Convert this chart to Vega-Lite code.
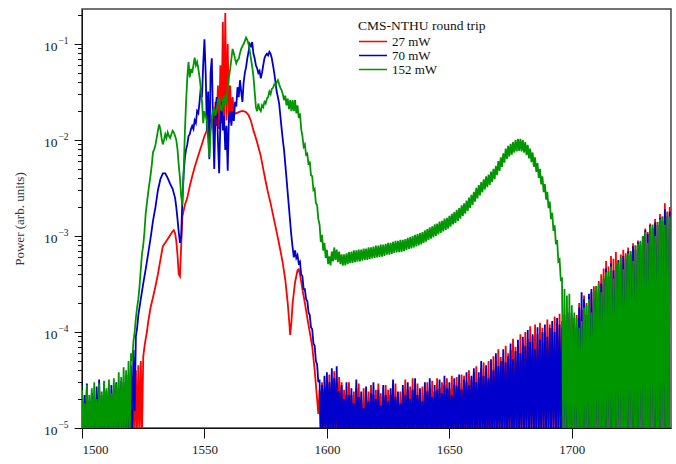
{
"$schema":"https://vega.github.io/schema/vega-lite/v6.json",
"autosize":{"type":"none"},
"width":589,"height":419,
"padding":{"left":82,"top":9,"right":5,"bottom":36},
"background":"white",
"data":{"values":[
{"x":1500,"r":2.3e-5,"b":1.5e-5,"g":2.5e-5},{"x":1500.5,"r":8e-6,"b":8e-6,"g":8e-6},
{"x":1501,"r":1.5e-5,"b":2.2e-5,"g":1.8e-5},{"x":1501.5,"r":8e-6,"b":8e-6,"g":8e-6},
{"x":1502,"r":2.6e-5,"b":2.9e-5,"g":2.8e-5},{"x":1502.5,"r":8e-6,"b":8e-6,"g":8e-6},
{"x":1503,"r":1.8e-5,"b":1.9e-5,"g":2.2e-5},{"x":1503.5,"r":8e-6,"b":8e-6,"g":8e-6},
{"x":1504,"r":1.6e-5,"b":2.3e-5,"g":2.6e-5},{"x":1504.5,"r":8e-6,"b":8e-6,"g":8e-6},
{"x":1505,"r":2.1e-5,"b":2.0e-5,"g":3.0e-5},{"x":1505.5,"r":8e-6,"b":8e-6,"g":8e-6},
{"x":1506,"r":1.4e-5,"b":2.7e-5,"g":2.0e-5},{"x":1506.5,"r":8e-6,"b":8e-6,"g":8e-6},
{"x":1507,"r":1.9e-5,"b":3.2e-5,"g":2.9e-5},{"x":1507.5,"r":8e-6,"b":8e-6,"g":8e-6},
{"x":1508,"r":2.2e-5,"b":2.0e-5,"g":2.4e-5},{"x":1508.5,"r":8e-6,"b":8e-6,"g":8e-6},
{"x":1509,"r":1.5e-5,"b":2.9e-5,"g":3.1e-5},{"x":1509.5,"r":8e-6,"b":8e-6,"g":8e-6},
{"x":1510,"r":1.8e-5,"b":2.4e-5,"g":2.6e-5},{"x":1510.5,"r":8e-6,"b":8e-6,"g":8e-6},
{"x":1511,"r":2.0e-5,"b":2.2e-5,"g":3.2e-5},{"x":1511.5,"r":8e-6,"b":8e-6,"g":8e-6},
{"x":1512,"r":1.6e-5,"b":2.8e-5,"g":2.3e-5},{"x":1512.5,"r":8e-6,"b":8e-6,"g":8e-6},
{"x":1513,"r":1.9e-5,"b":2.5e-5,"g":3.3e-5},{"x":1513.5,"r":8e-6,"b":8e-6,"g":8e-6},
{"x":1514,"r":1.5e-5,"b":3.0e-5,"g":2.9e-5},{"x":1514.5,"r":8e-6,"b":8e-6,"g":8e-6},
{"x":1515,"r":2.0e-5,"b":2.6e-5,"g":3.8e-5},{"x":1515.5,"r":8e-6,"b":8e-6,"g":8e-6},
{"x":1516,"r":1.7e-5,"b":3.1e-5,"g":3.4e-5},{"x":1516.5,"r":8e-6,"b":8e-6,"g":8e-6},
{"x":1517,"r":1.8e-5,"b":3.0e-5,"g":4.3e-5},{"x":1517.5,"r":8e-6,"b":8e-6,"g":8e-6},
{"x":1518,"r":1.9e-5,"b":3.5e-5,"g":4.0e-5},{"x":1518.5,"r":8e-6,"b":8e-6,"g":8e-6},
{"x":1519,"r":2.1e-5,"b":3.6e-5,"g":5.0e-5},{"x":1519.5,"r":8e-6,"b":8e-6,"g":8e-6},
{"x":1520,"r":2.4e-5,"b":4.5e-5,"g":6.0e-5},{"x":1520.5,"r":8e-6,"b":8e-6,"g":5.0e-5},
{"x":1521,"r":3.5e-5,"b":6.5e-5,"g":8e-5},{"x":1521.5,"r":8e-6,"b":1.5e-5,"g":1.0e-4},
{"x":1522,"r":4.0e-5,"b":9e-5,"g":1.4e-4},{"x":1522.5,"r":8e-6,"b":1.1e-4,"g":1.8e-4},
{"x":1523,"r":4.5e-5,"b":1.5e-4,"g":2.2e-4},{"x":1523.5,"r":8e-6,"g":3e-4},
{"x":1524,"r":5e-5,"b":2.2e-4,"g":4.5e-4},{"x":1524.5,"r":8e-6,"g":6.5e-4},
{"x":1525,"r":5.5e-5,"b":3.2e-4,"g":8e-4},{"x":1525.5,"r":7e-5,"g":1.1e-3},
{"x":1526,"r":8.5e-5,"b":4.5e-4,"g":1.7e-3},{"x":1526.5,"r":1e-4,"g":2.2e-3},
{"x":1527,"r":1.26e-4,"b":6.5e-4,"g":2.8e-3},{"x":1527.5,"g":3.5e-3},
{"x":1528,"r":1.8e-4,"b":9.5e-4,"g":4.3e-3},{"x":1528.5,"g":5.5e-3},
{"x":1529,"r":2.3e-4,"b":1.45e-3,"g":7.5e-3},{"x":1529.5,"g":8e-3},
{"x":1530,"r":3e-4,"b":2e-3,"g":8.9e-3},{"x":1530.5,"g":1.05e-2},
{"x":1531,"r":4e-4,"b":3e-3,"g":1.25e-2},{"x":1531.5,"g":1.45e-2},
{"x":1532,"r":5.6e-4,"b":3.9e-3,"g":1.3e-2},{"x":1532.5,"g":1.05e-2},
{"x":1533,"r":7.8e-4,"b":4.5e-3,"g":9e-3},{"x":1533.5,"g":1e-2},
{"x":1534,"r":8.5e-4,"b":4.5e-3,"g":1.15e-2},{"x":1534.5,"g":1.05e-2},
{"x":1535,"r":9.3e-4,"b":4e-3,"g":1.2e-2},{"x":1535.5,"g":1.1e-2},
{"x":1536,"r":1.02e-3,"b":3.5e-3,"g":1.05e-2},{"x":1536.5,"g":1.15e-2},
{"x":1537,"r":1.12e-3,"b":3.1e-3,"g":1.25e-2},{"x":1537.5,"r":1.15e-3,"g":1.2e-2},
{"x":1538,"r":1.07e-3,"b":2.5e-3,"g":1.1e-2},{"x":1538.5,"r":8.9e-4,"b":2e-3,"g":1e-2},
{"x":1539,"r":6.3e-4,"b":1.5e-3,"g":8e-3},{"x":1539.5,"r":4e-4,"b":1.1e-3,"g":5.5e-3},
{"x":1540,"r":3.8e-4,"b":8.5e-4,"g":4e-3},{"x":1540.5,"r":7.9e-4,"b":1e-3,"g":2.6e-3},
{"x":1541,"r":1.6e-3,"b":2.5e-3,"g":2.1e-3},{"x":1541.5,"b":4.5e-3,"g":4.5e-3},
{"x":1542,"r":2.1e-3,"b":6.5e-3,"g":1.2e-2},{"x":1542.5,"b":8e-3,"g":2.5e-2},
{"x":1543,"r":2.5e-3,"b":9e-3,"g":4.5e-2},{"x":1543.5,"b":1.1e-2,"g":6.5e-2},
{"x":1544,"r":3.3e-3,"b":1.15e-2,"g":4.5e-2},{"x":1544.5,"b":1.3e-2,"g":5.5e-2},
{"x":1545,"r":4.2e-3,"b":1.4e-2,"g":5e-2},{"x":1545.5,"b":1.3e-2,"g":6e-2},
{"x":1546,"r":5.2e-3,"b":1.6e-2,"g":7.2e-2},{"x":1546.5,"b":1.5e-2,"g":6e-2},
{"x":1547,"r":6.3e-3,"b":2e-2,"g":6.5e-2},{"x":1547.5,"b":1.9e-2,"g":5.5e-2},
{"x":1548,"r":7.6e-3,"b":2.5e-2,"g":4.5e-2},{"x":1548.5,"b":3.5e-2,"g":3.5e-2},
{"x":1549,"r":9.1e-3,"b":2.8e-2,"g":2.5e-2},{"x":1549.5,"b":6.3e-2,"g":1.5e-2},
{"x":1550,"r":1.1e-2,"b":0.112,"g":2e-2},{"x":1550.5,"b":5e-2,"g":1.8e-2},
{"x":1551,"r":1.26e-2,"b":1.26e-2,"g":1.6e-2},{"x":1551.5,"b":3.2e-2,"g":1e-2},
{"x":1552,"r":1.48e-2,"b":6.3e-3,"g":6.6e-3},{"x":1552.5,"b":5e-2,"g":1.2e-2},
{"x":1553,"r":1.66e-2,"b":7.1e-2,"g":1.6e-2},{"x":1553.5,"r":2.2e-2,"b":1.58e-2,"g":2e-2},
{"x":1554,"r":1.3e-2,"b":5e-3,"g":2.2e-2},{"x":1554.5,"r":2.5e-2,"b":2e-2,"g":1.8e-2},
{"x":1555,"r":1.4e-2,"b":2.8e-2,"g":2e-2},{"x":1555.5,"r":3.7e-2,"b":1e-2,"g":2.6e-2},
{"x":1556,"r":1.3e-2,"b":4.5e-3,"g":2.8e-2},{"x":1556.5,"r":6e-2,"b":1.58e-2,"g":2.2e-2},
{"x":1557,"r":1.5e-2,"b":2.5e-2,"g":2e-2},{"x":1557.5,"r":0.17,"b":1.26e-2,"g":2.6e-2},
{"x":1558,"r":1.4e-2,"b":1.78e-2,"g":2.8e-2},{"x":1558.5,"r":0.21,"b":7.9e-3,"g":2.3e-2},
{"x":1559,"r":1.6e-2,"b":1.41e-2,"g":2.5e-2},{"x":1559.5,"r":0.1,"b":4.8e-3,"g":3.5e-2},
{"x":1560,"r":1.5e-2,"b":1.78e-2,"g":4.5e-2},{"x":1560.5,"r":3.7e-2,"b":2e-2,"g":5.5e-2},
{"x":1561,"r":1.6e-2,"b":1.41e-2,"g":7e-2},{"x":1561.5,"r":2.8e-2,"b":2e-2,"g":8.9e-2},
{"x":1562,"r":1.8e-2,"b":1.58e-2,"g":8e-2},{"x":1562.5,"r":1.9e-2,"b":2.5e-2,"g":7e-2},
{"x":1563,"r":1.9e-2,"b":2.24e-2,"g":6.3e-2},{"x":1563.5,"b":3.55e-2,"g":6.8e-2},
{"x":1564,"r":1.95e-2,"b":2.8e-2,"g":7e-2},{"x":1564.5,"b":4.2e-2,"g":8e-2},
{"x":1565,"r":2e-2,"b":3.2e-2,"g":8.9e-2},{"x":1565.5,"b":2.5e-2,"g":9.5e-2},
{"x":1566,"r":2e-2,"b":4e-2,"g":0.1},{"x":1566.5,"b":5e-2,"g":0.108},
{"x":1567,"r":1.95e-2,"b":5.75e-2,"g":0.117},{"x":1567.5,"b":7.1e-2,"g":0.11},
{"x":1568,"r":1.82e-2,"b":8.3e-2,"g":0.1},{"x":1568.5,"b":0.1,"g":8.5e-2},
{"x":1569,"r":1.58e-2,"b":9.5e-2,"g":7e-2},{"x":1569.5,"b":0.105,"g":5.8e-2},
{"x":1570,"r":1.26e-2,"b":7.9e-2,"g":4.6e-2},{"x":1570.5,"b":7.1e-2,"g":3.2e-2},
{"x":1571,"r":1.05e-2,"b":6e-2,"g":2.2e-2},{"x":1571.5,"b":5.6e-2,"g":2e-2},
{"x":1572,"r":8.5e-3,"b":5e-2,"g":2.4e-2},{"x":1572.5,"b":5.25e-2,"g":2.1e-2},
{"x":1573,"r":6.8e-3,"b":4.4e-2,"g":2e-2},{"x":1573.5,"b":5e-2,"g":2.3e-2},
{"x":1574,"r":5e-3,"b":6e-2,"g":2.2e-2},{"x":1574.5,"b":7.1e-2,"g":2.5e-2},
{"x":1575,"r":3.7e-3,"b":7.6e-2,"g":2.4e-2},{"x":1575.5,"b":7.9e-2,"g":2.7e-2},
{"x":1576,"r":2.8e-3,"b":7.6e-2,"g":2.8e-2},{"x":1576.5,"b":8.3e-2,"g":3.2e-2},
{"x":1577,"r":2.2e-3,"b":7.9e-2,"g":3e-2},{"x":1577.5,"b":7.1e-2,"g":3.4e-2},
{"x":1578,"r":1.66e-3,"b":6e-2,"g":3.5e-2},{"x":1578.5,"b":5e-2,"g":3.8e-2},
{"x":1579,"r":1.26e-3,"b":4e-2,"g":3.7e-2},{"x":1579.5,"b":3.2e-2,"g":4e-2},
{"x":1580,"r":9.5e-4,"b":2.8e-2,"g":4.2e-2},{"x":1580.5,"b":2.4e-2,"g":3.8e-2},
{"x":1581,"r":7.1e-4,"b":1.78e-2,"g":3.5e-2},{"x":1581.5,"b":1.32e-2,"g":3.3e-2},
{"x":1582,"r":5.2e-4,"b":1e-2,"g":3e-2},{"x":1582.5,"b":7.9e-3,"g":2.6e-2},
{"x":1583,"r":3.5e-4,"b":5.6e-3,"g":2.9e-2},{"x":1583.5,"b":4e-3,"g":2.3e-2},
{"x":1584,"r":2e-4,"b":2.8e-3,"g":2.7e-2},{"x":1584.5,"r":1.4e-4,"b":2e-3,"g":2.1e-2},
{"x":1585,"r":9.3e-5,"b":1.4e-3,"g":2.6e-2},{"x":1585.5,"r":1.26e-4,"b":1e-3,"g":2e-2},
{"x":1586,"r":2e-4,"b":7.6e-4,"g":2.6e-2},{"x":1586.5,"b":6e-4,"g":2e-2},
{"x":1587,"r":3.3e-4,"b":7.1e-4,"g":2.6e-2},{"x":1587.5,"b":5.9e-4,"g":1.9e-2},
{"x":1588,"r":4.4e-4,"b":6.3e-4,"g":2.3e-2},{"x":1588.5,"r":4.5e-4,"b":5.2e-4,"g":1.7e-2},
{"x":1589,"r":4e-4,"b":5.4e-4,"g":1.9e-2},{"x":1589.5,"b":4e-4,"g":1.3e-2},
{"x":1590,"r":2.8e-4,"b":3.8e-4,"g":1.1e-2},{"x":1590.5,"b":2.8e-4,"g":8.5e-3},
{"x":1591,"r":2e-4,"b":2.8e-4,"g":9e-3},{"x":1591.5,"b":2.2e-4,"g":7e-3},
{"x":1592,"r":1.4e-4,"b":2.1e-4,"g":7.2e-3},{"x":1592.5,"b":1.6e-4,"g":5.5e-3},
{"x":1593,"r":1e-4,"b":1.5e-4,"g":6e-3},{"x":1593.5,"b":1.12e-4,"g":4.3e-3},
{"x":1594,"r":7.1e-5,"b":1.07e-4,"g":4.2e-3},{"x":1594.5,"b":7.6e-5,"g":3e-3},
{"x":1595,"r":4e-5,"b":7.2e-5,"g":3.1e-3},{"x":1595.5,"b":5e-5,"g":2.2e-3},
{"x":1596,"r":2e-5,"b":4.6e-5,"g":2.1e-3},{"x":1596.5,"r":1.4e-5,"b":3e-5,"g":1.5e-3},
{"x":1597,"r":2.5e-5,"b":3.2e-5,"g":1.32e-3},{"x":1597.5,"r":8e-6,"b":8e-6,"g":8.65e-4},
{"x":1598,"r":3.0e-5,"b":2.8e-5,"g":1.03e-3},{"x":1598.5,"r":8e-6,"b":8e-6,"g":7.05e-4},
{"x":1599,"r":2.6e-5,"b":3.5e-5,"g":8.5e-4},{"x":1599.5,"r":8e-6,"b":8e-6,"g":5.9e-4},
{"x":1600,"r":3.2e-5,"b":3.8e-5,"g":7.2e-4},{"x":1600.5,"r":8e-6,"b":8e-6,"g":5.1e-4},
{"x":1601,"r":3.6e-5,"b":3.0e-5,"g":6.15e-4},{"x":1601.5,"r":8e-6,"b":8e-6,"g":4.95e-4},
{"x":1602,"r":2.8e-5,"b":4.2e-5,"g":6.9e-4},{"x":1602.5,"r":8e-6,"b":8e-6,"g":5.45e-4},
{"x":1603,"r":3.9e-5,"b":3.3e-5,"g":7.6e-4},{"x":1603.5,"r":8e-6,"b":8e-6,"g":5.65e-4},
{"x":1604,"r":3.0e-5,"b":4.4e-5,"g":7.2e-4},{"x":1604.5,"r":8e-6,"b":8e-6,"g":5.35e-4},
{"x":1605,"r":3.4e-5,"b":2.4e-5,"g":6.9e-4},{"x":1605.5,"r":8e-6,"b":8e-6,"g":5.1e-4},
{"x":1606,"r":3.0e-5,"b":2.8e-5,"g":6.45e-4},{"x":1606.5,"r":8e-6,"b":8e-6,"g":4.9e-4},
{"x":1607,"r":2.5e-5,"b":2.0e-5,"g":6.45e-4},{"x":1607.5,"r":8e-6,"b":8e-6,"g":4.95e-4},
{"x":1608,"r":2.2e-5,"b":3.0e-5,"g":6.6e-4},{"x":1608.5,"r":8e-6,"b":8e-6,"g":5.1e-4},
{"x":1609,"r":3.0e-5,"b":2.2e-5,"g":6.8e-4},{"x":1609.5,"r":8e-6,"b":8e-6,"g":5.2e-4},
{"x":1610,"r":2.2e-5,"b":2.6e-5,"g":6.9e-4},{"x":1610.5,"r":8e-6,"b":8e-6,"g":5.25e-4},
{"x":1611,"r":2.4e-5,"b":1.8e-5,"g":7.1e-4},{"x":1611.5,"r":8e-6,"b":8e-6,"g":5.35e-4},
{"x":1612,"r":2.6e-5,"b":3.2e-5,"g":7.1e-4},{"x":1612.5,"r":8e-6,"b":8e-6,"g":5.4e-4},
{"x":1613,"r":2.9e-5,"b":2.1e-5,"g":7.2e-4},{"x":1613.5,"r":8e-6,"b":8e-6,"g":5.45e-4},
{"x":1614,"r":2.0e-5,"b":2.4e-5,"g":7.2e-4},{"x":1614.5,"r":8e-6,"b":8e-6,"g":5.55e-4},
{"x":1615,"r":2.6e-5,"b":1.6e-5,"g":7.4e-4},{"x":1615.5,"r":8e-6,"b":8e-6,"g":5.65e-4},
{"x":1616,"r":2.2e-5,"b":2.7e-5,"g":7.4e-4},{"x":1616.5,"r":8e-6,"b":8e-6,"g":5.65e-4},
{"x":1617,"r":2.4e-5,"b":1.9e-5,"g":7.6e-4},{"x":1617.5,"r":8e-6,"b":8e-6,"g":5.75e-4},
{"x":1618,"r":2.8e-5,"b":2.3e-5,"g":7.6e-4},{"x":1618.5,"r":8e-6,"b":8e-6,"g":5.85e-4},
{"x":1619,"r":2.2e-5,"b":3.0e-5,"g":7.75e-4},{"x":1619.5,"r":8e-6,"b":8e-6,"g":5.9e-4},
{"x":1620,"r":2.5e-5,"b":2.0e-5,"g":7.95e-4},{"x":1620.5,"r":8e-6,"b":8e-6,"g":6.0e-4},
{"x":1621,"r":2.9e-5,"b":2.5e-5,"g":7.95e-4},{"x":1621.5,"r":8e-6,"b":8e-6,"g":6.05e-4},
{"x":1622,"r":2.3e-5,"b":1.7e-5,"g":8.15e-4},{"x":1622.5,"r":8e-6,"b":8e-6,"g":6.1e-4},
{"x":1623,"r":2.0e-5,"b":2.8e-5,"g":8.15e-4},{"x":1623.5,"r":8e-6,"b":8e-6,"g":6.2e-4},
{"x":1624,"r":2.8e-5,"b":2.2e-5,"g":8.3e-4},{"x":1624.5,"r":8e-6,"b":8e-6,"g":6.4e-4},
{"x":1625,"r":2.5e-5,"b":1.9e-5,"g":8.5e-4},{"x":1625.5,"r":8e-6,"b":8e-6,"g":6.4e-4},
{"x":1626,"r":2.2e-5,"b":2.6e-5,"g":8.5e-4},{"x":1626.5,"r":8e-6,"b":8e-6,"g":6.5e-4},
{"x":1627,"r":2.6e-5,"b":3.2e-5,"g":8.7e-4},{"x":1627.5,"r":8e-6,"b":8e-6,"g":6.65e-4},
{"x":1628,"r":2.9e-5,"b":2.1e-5,"g":8.9e-4},{"x":1628.5,"r":8e-6,"b":8e-6,"g":6.75e-4},
{"x":1629,"r":2.0e-5,"b":2.4e-5,"g":8.9e-4},{"x":1629.5,"r":8e-6,"b":8e-6,"g":6.8e-4},
{"x":1630,"r":2.4e-5,"b":1.8e-5,"g":9.1e-4},{"x":1630.5,"r":8e-6,"b":8e-6,"g":6.85e-4},
{"x":1631,"r":2.2e-5,"b":2.8e-5,"g":9.1e-4},{"x":1631.5,"r":8e-6,"b":8e-6,"g":6.95e-4},
{"x":1632,"r":3.2e-5,"b":2.2e-5,"g":9.3e-4},{"x":1632.5,"r":8e-6,"b":8e-6,"g":7.15e-4},
{"x":1633,"r":2.5e-5,"b":3.0e-5,"g":9.55e-4},{"x":1633.5,"r":8e-6,"b":8e-6,"g":7.35e-4},
{"x":1634,"r":2.7e-5,"b":2.0e-5,"g":9.75e-4},{"x":1634.5,"r":8e-6,"b":8e-6,"g":7.45e-4},
{"x":1635,"r":3.3e-5,"b":2.5e-5,"g":1.0e-3},{"x":1635.5,"r":8e-6,"b":8e-6,"g":7.6e-4},
{"x":1636,"r":2.4e-5,"b":3.3e-5,"g":1.03e-3},{"x":1636.5,"r":8e-6,"b":8e-6,"g":7.8e-4},
{"x":1637,"r":2.9e-5,"b":2.2e-5,"g":1.05e-3},{"x":1637.5,"r":8e-6,"b":8e-6,"g":8.0e-4},
{"x":1638,"r":2.1e-5,"b":2.6e-5,"g":1.07e-3},{"x":1638.5,"r":8e-6,"b":8e-6,"g":8.2e-4},
{"x":1639,"r":2.7e-5,"b":1.9e-5,"g":1.1e-3},{"x":1639.5,"r":8e-6,"b":8e-6,"g":8.45e-4},
{"x":1640,"r":2.4e-5,"b":3.0e-5,"g":1.145e-3},{"x":1640.5,"r":8e-6,"b":8e-6,"g":8.75e-4},
{"x":1641,"r":3.0e-5,"b":2.4e-5,"g":1.18e-3},{"x":1641.5,"r":8e-6,"b":8e-6,"g":9.1e-4},
{"x":1642,"r":2.6e-5,"b":3.3e-5,"g":1.23e-3},{"x":1642.5,"r":8e-6,"b":8e-6,"g":9.4e-4},
{"x":1643,"r":3.1e-5,"b":2.1e-5,"g":1.26e-3},{"x":1643.5,"r":8e-6,"b":8e-6,"g":9.7e-4},
{"x":1644,"r":2.4e-5,"b":2.8e-5,"g":1.32e-3},{"x":1644.5,"r":8e-6,"b":8e-6,"g":1.0e-3},
{"x":1645,"r":3.3e-5,"b":2.5e-5,"g":1.35e-3},{"x":1645.5,"r":8e-6,"b":8e-6,"g":1.04e-3},
{"x":1646,"r":2.6e-5,"b":3.2e-5,"g":1.41e-3},{"x":1646.5,"r":8e-6,"b":8e-6,"g":1.08e-3},
{"x":1647,"r":3.0e-5,"b":2.3e-5,"g":1.44e-3},{"x":1647.5,"r":8e-6,"b":8e-6,"g":1.12e-3},
{"x":1648,"r":2.8e-5,"b":3.5e-5,"g":1.52e-3},{"x":1648.5,"r":8e-6,"b":8e-6,"g":1.16e-3},
{"x":1649,"r":3.3e-5,"b":2.6e-5,"g":1.55e-3},{"x":1649.5,"r":8e-6,"b":8e-6,"g":1.19e-3},
{"x":1650,"r":2.6e-5,"b":3.0e-5,"g":1.62e-3},{"x":1650.5,"r":8e-6,"b":8e-6,"g":1.25e-3},
{"x":1651,"r":3.5e-5,"b":2.2e-5,"g":1.7e-3},{"x":1651.5,"r":8e-6,"b":8e-6,"g":1.32e-3},
{"x":1652,"r":2.8e-5,"b":3.3e-5,"g":1.78e-3},{"x":1652.5,"r":8e-6,"b":8e-6,"g":1.37e-3},
{"x":1653,"r":3.4e-5,"b":2.75e-5,"g":1.87e-3},{"x":1653.5,"r":8e-6,"b":8e-6,"g":1.44e-3},
{"x":1654,"r":3.0e-5,"b":3.6e-5,"g":1.95e-3},{"x":1654.5,"r":8e-6,"b":8e-6,"g":1.52e-3},
{"x":1655,"r":3.6e-5,"b":2.5e-5,"g":2.09e-3},{"x":1655.5,"r":8e-6,"b":8e-6,"g":1.62e-3},
{"x":1656,"r":3.5e-5,"b":3.2e-5,"g":2.19e-3},{"x":1656.5,"r":8e-6,"b":8e-6,"g":1.71e-3},
{"x":1657,"r":3.0e-5,"b":3.8e-5,"g":2.34e-3},{"x":1657.5,"r":8e-6,"b":8e-6,"g":1.83e-3},
{"x":1658,"r":4.0e-5,"b":2.8e-5,"g":2.51e-3},{"x":1658.5,"r":8e-6,"b":8e-6,"g":1.96e-3},
{"x":1659,"r":3.2e-5,"b":3.5e-5,"g":2.69e-3},{"x":1659.5,"r":8e-6,"b":8e-6,"g":2.11e-3},
{"x":1660,"r":3.8e-5,"b":4.2e-5,"g":2.88e-3},{"x":1660.5,"r":8e-6,"b":8e-6,"g":2.28e-3},
{"x":1661,"r":4.4e-5,"b":3.0e-5,"g":3.17e-3},{"x":1661.5,"r":8e-6,"b":8e-6,"g":2.47e-3},
{"x":1662,"r":3.4e-5,"b":3.8e-5,"g":3.39e-3},{"x":1662.5,"r":8e-6,"b":8e-6,"g":2.65e-3},
{"x":1663,"r":4.2e-5,"b":5.0e-5,"g":3.64e-3},{"x":1663.5,"r":8e-6,"b":8e-6,"g":2.84e-3},
{"x":1664,"r":4.8e-5,"b":3.5e-5,"g":3.89e-3},{"x":1664.5,"r":8e-6,"b":8e-6,"g":3.05e-3},
{"x":1665,"r":3.8e-5,"b":4.5e-5,"g":4.18e-3},{"x":1665.5,"r":8e-6,"b":8e-6,"g":3.22e-3},
{"x":1666,"r":5.0e-5,"b":3.3e-5,"g":4.37e-3},{"x":1666.5,"r":8e-6,"b":8e-6,"g":3.41e-3},
{"x":1667,"r":4.4e-5,"b":5.2e-5,"g":4.69e-3},{"x":1667.5,"r":8e-6,"b":8e-6,"g":3.67e-3},
{"x":1668,"r":5.6e-5,"b":4.0e-5,"g":5.01e-3},{"x":1668.5,"r":8e-6,"b":8e-6,"g":3.92e-3},
{"x":1669,"r":4.8e-5,"b":6.0e-5,"g":5.37e-3},{"x":1669.5,"r":8e-6,"b":8e-6,"g":4.3e-3},
{"x":1670,"r":6.6e-5,"b":4.4e-5,"g":6.03e-3},{"x":1670.5,"r":8e-6,"b":8e-6,"g":4.77e-3},
{"x":1671,"r":5.5e-5,"b":5.0e-5,"g":6.61e-3},{"x":1671.5,"r":8e-6,"b":8e-6,"g":5.23e-3},
{"x":1672,"r":5.0e-5,"b":6.6e-5,"g":7.25e-3},{"x":1672.5,"r":8e-6,"b":8e-6,"g":5.8e-3},
{"x":1673,"r":7.2e-5,"b":4.8e-5,"g":8.13e-3},{"x":1673.5,"r":8e-6,"b":8e-6,"g":6.35e-3},
{"x":1674,"r":6.0e-5,"b":5.6e-5,"g":8.69e-3},{"x":1674.5,"r":8e-6,"b":8e-6,"g":6.73e-3},
{"x":1675,"r":6.5e-5,"b":7.6e-5,"g":9.12e-3},{"x":1675.5,"r":8e-6,"b":8e-6,"g":7.05e-3},
{"x":1676,"r":8.5e-5,"b":5.2e-5,"g":9.54e-3},{"x":1676.5,"r":8e-6,"b":8e-6,"g":7.38e-3},
{"x":1677,"r":7.0e-5,"b":6.3e-5,"g":1.0e-2},{"x":1677.5,"r":8e-6,"b":8e-6,"g":7.61e-3},
{"x":1678,"r":7.2e-5,"b":8.3e-5,"g":1.03e-2},{"x":1678.5,"r":8e-6,"b":8e-6,"g":7.71e-3},
{"x":1679,"r":9.5e-5,"b":6.0e-5,"g":1.03e-2},{"x":1679.5,"r":8e-6,"b":8e-6,"g":7.61e-3},
{"x":1680,"r":7.5e-5,"b":8.9e-5,"g":1.0e-2},{"x":1680.5,"r":8e-6,"b":8e-6,"g":7.38e-3},
{"x":1681,"r":1.0e-4,"b":7.1e-5,"g":9.54e-3},{"x":1681.5,"r":8e-6,"b":8e-6,"g":6.96e-3},
{"x":1682,"r":8.5e-5,"b":1.05e-4,"g":8.9e-3},{"x":1682.5,"r":8e-6,"b":8e-6,"g":6.43e-3},
{"x":1683,"r":1.15e-4,"b":7.9e-5,"g":8.13e-3},{"x":1683.5,"r":8e-6,"b":8e-6,"g":5.87e-3},
{"x":1684,"r":9.0e-5,"b":9.5e-5,"g":7.42e-3},{"x":1684.5,"r":8e-6,"b":8e-6,"g":5.26e-3},
{"x":1685,"r":1.2e-4,"b":6.6e-5,"g":6.61e-3},{"x":1685.5,"r":8e-6,"b":8e-6,"g":4.65e-3},
{"x":1686,"r":9.5e-5,"b":1.12e-4,"g":5.76e-3},{"x":1686.5,"r":8e-6,"b":8e-6,"g":4.04e-3},
{"x":1687,"r":1.25e-4,"b":8.3e-5,"g":5.01e-3},{"x":1687.5,"r":8e-6,"b":8e-6,"g":3.45e-3},
{"x":1688,"r":1.1e-4,"b":1.0e-4,"g":4.18e-3},{"x":1688.5,"r":8e-6,"b":8e-6,"g":2.87e-3},
{"x":1689,"r":1.0e-4,"b":1.2e-4,"g":3.47e-3},{"x":1689.5,"r":8e-6,"b":8e-6,"g":2.39e-3},
{"x":1690,"r":1.35e-4,"b":8.9e-5,"g":2.88e-3},{"x":1690.5,"r":8e-6,"b":8e-6,"g":1.95e-3},
{"x":1691,"r":1.2e-4,"b":1.1e-4,"g":2.29e-3},{"x":1691.5,"r":8e-6,"b":8e-6,"g":1.5e-3},
{"x":1692,"r":1.1e-4,"b":1.3e-4,"g":1.74e-3},{"x":1692.5,"r":8e-6,"b":8e-6,"g":1.13e-3},
{"x":1693,"r":1.45e-4,"b":1.0e-4,"g":1.29e-3},{"x":1693.5,"r":8e-6,"b":8e-6,"g":8.2e-4},
{"x":1694,"r":1.25e-4,"b":1.4e-4,"g":9.1e-4},{"x":1694.5,"r":8e-6,"b":8e-6,"g":5.45e-4},
{"x":1695,"r":1.55e-4,"b":1.2e-4,"g":5.7e-4},{"x":1695.5,"r":8e-6,"b":8e-6,"g":3.5e-4},
{"x":1696,"r":1.3e-4,"b":1.1e-4,"g":3.6e-4},{"x":1696.5,"r":8e-6,"b":8e-6,"g":8e-6},
{"x":1697,"r":1.3e-4,"b":1.5e-4,"g":2.8e-4},{"x":1697.5,"r":8e-6,"b":8e-6,"g":8e-6},
{"x":1698,"r":1.6e-4,"b":1.3e-4,"g":2.4e-4},{"x":1698.5,"r":8e-6,"b":8e-6,"g":8e-6},
{"x":1699,"r":1.4e-4,"b":1.6e-4,"g":2.5e-4},{"x":1699.5,"r":8e-6,"b":8e-6,"g":8e-6},
{"x":1700,"r":1.5e-4,"b":1.2e-4,"g":1.9e-4},{"x":1700.5,"r":8e-6,"b":8e-6,"g":8e-6},
{"x":1701,"r":1.2e-4,"b":1.4e-4,"g":1.6e-4},{"x":1701.5,"r":8e-6,"b":8e-6,"g":8e-6},
{"x":1702,"r":1.5e-4,"b":1.1e-4,"g":1.4e-4},{"x":1702.5,"r":8e-6,"b":8e-6,"g":8e-6},
{"x":1703,"r":2.0e-4,"b":1.8e-4,"g":1.1e-4},{"x":1703.5,"r":8e-6,"b":8e-6,"g":8e-6},
{"x":1704,"r":1.7e-4,"b":2.6e-4,"g":1.3e-4},{"x":1704.5,"r":8e-6,"b":8e-6,"g":8e-6},
{"x":1705,"r":2.4e-4,"b":2.2e-4,"g":1.8e-4},{"x":1705.5,"r":8e-6,"b":8e-6,"g":8e-6},
{"x":1706,"r":2.0e-4,"b":1.5e-4,"g":1.9e-4},{"x":1706.5,"r":8e-6,"b":8e-6,"g":8e-6},
{"x":1707,"r":2.3e-4,"b":2.5e-4,"g":2.2e-4},{"x":1707.5,"r":8e-6,"b":8e-6,"g":8e-6},
{"x":1708,"r":2.6e-4,"b":2.8e-4,"g":1.6e-4},{"x":1708.5,"r":8e-6,"b":8e-6,"g":8e-6},
{"x":1709,"r":3.0e-4,"b":2.2e-4,"g":2.7e-4},{"x":1709.5,"r":8e-6,"b":8e-6,"g":8e-6},
{"x":1710,"r":2.7e-4,"b":3.0e-4,"g":3.0e-4},{"x":1710.5,"r":8e-6,"b":8e-6,"g":8e-6},
{"x":1711,"r":3.4e-4,"b":2.6e-4,"g":3.2e-4},{"x":1711.5,"r":8e-6,"b":8e-6,"g":8e-6},
{"x":1712,"r":4.0e-4,"b":3.2e-4,"g":2.6e-4},{"x":1712.5,"r":8e-6,"b":8e-6,"g":8e-6},
{"x":1713,"r":4.6e-4,"b":3.6e-4,"g":3.8e-4},{"x":1713.5,"r":8e-6,"b":8e-6,"g":8e-6},
{"x":1714,"r":5.5e-4,"b":4.6e-4,"g":4.2e-4},{"x":1714.5,"r":8e-6,"b":8e-6,"g":8e-6},
{"x":1715,"r":4.8e-4,"b":3.8e-4,"g":4.3e-4},{"x":1715.5,"r":8e-6,"b":8e-6,"g":8e-6},
{"x":1716,"r":6.2e-4,"b":5.2e-4,"g":4.8e-4},{"x":1716.5,"r":8e-6,"b":8e-6,"g":8e-6},
{"x":1717,"r":5.8e-4,"b":4.4e-4,"g":3.6e-4},{"x":1717.5,"r":8e-6,"b":8e-6,"g":8e-6},
{"x":1718,"r":6.8e-4,"b":5.0e-4,"g":5.2e-4},{"x":1718.5,"r":8e-6,"b":8e-6,"g":8e-6},
{"x":1719,"r":5.6e-4,"b":5.6e-4,"g":5.4e-4},{"x":1719.5,"r":8e-6,"b":8e-6,"g":8e-6},
{"x":1720,"r":6.4e-4,"b":5.0e-4,"g":5.9e-4},{"x":1720.5,"r":8e-6,"b":8e-6,"g":8e-6},
{"x":1721,"r":7.2e-4,"b":6.2e-4,"g":4.5e-4},{"x":1721.5,"r":8e-6,"b":8e-6,"g":8e-6},
{"x":1722,"r":6.6e-4,"b":5.8e-4,"g":6.3e-4},{"x":1722.5,"r":8e-6,"b":8e-6,"g":8e-6},
{"x":1723,"r":7.6e-4,"b":7.0e-4,"g":6.6e-4},{"x":1723.5,"r":8e-6,"b":8e-6,"g":8e-6},
{"x":1724,"r":7.0e-4,"b":6.4e-4,"g":6.9e-4},{"x":1724.5,"r":8e-6,"b":8e-6,"g":8e-6},
{"x":1725,"r":8.4e-4,"b":7.8e-4,"g":5.5e-4},{"x":1725.5,"r":8e-6,"b":8e-6,"g":8e-6},
{"x":1726,"r":8.0e-4,"b":7.2e-4,"g":7.9e-4},{"x":1726.5,"r":8e-6,"b":8e-6,"g":8e-6},
{"x":1727,"r":9.0e-4,"b":8.6e-4,"g":8.3e-4},{"x":1727.5,"r":8e-6,"b":8e-6,"g":8e-6},
{"x":1728,"r":8.6e-4,"b":8.0e-4,"g":8.9e-4},{"x":1728.5,"r":8e-6,"b":8e-6,"g":8e-6},
{"x":1729,"r":1.0e-3,"b":9.8e-4,"g":1.0e-3},{"x":1729.5,"r":8e-6,"b":8e-6,"g":8e-6},
{"x":1730,"r":1.2e-3,"b":1.15e-3,"g":1.1e-3},{"x":1730.5,"r":8e-6,"b":8e-6,"g":8e-6},
{"x":1731,"r":1.1e-3,"b":1.05e-3,"g":8.5e-4},{"x":1731.5,"r":8e-6,"b":8e-6,"g":8e-6},
{"x":1732,"r":1.35e-3,"b":1.3e-3,"g":1.26e-3},{"x":1732.5,"r":8e-6,"b":8e-6,"g":8e-6},
{"x":1733,"r":1.25e-3,"b":1.2e-3,"g":1.32e-3},{"x":1733.5,"r":8e-6,"b":8e-6,"g":8e-6},
{"x":1734,"r":1.5e-3,"b":1.38e-3,"g":1.0e-3},{"x":1734.5,"r":8e-6,"b":8e-6,"g":8e-6},
{"x":1735,"r":1.4e-3,"b":1.3e-3,"g":1.4e-3},{"x":1735.5,"r":8e-6,"b":8e-6,"g":8e-6},
{"x":1736,"r":1.7e-3,"b":1.55e-3,"g":1.5e-3},{"x":1736.5,"r":8e-6,"b":8e-6,"g":8e-6},
{"x":1737,"r":1.6e-3,"b":1.45e-3,"g":1.6e-3},{"x":1737.5,"r":8e-6,"b":8e-6,"g":8e-6},
{"x":1738,"r":2.2e-3,"b":1.9e-3,"g":1.3e-3},{"x":1738.5,"r":8e-6,"b":8e-6,"g":8e-6},
{"x":1739,"r":1.8e-3,"b":1.6e-3,"g":1.74e-3},{"x":1739.5,"r":8e-6,"b":8e-6,"g":8e-6},
{"x":1740,"r":2.0e-3,"b":1.8e-3,"g":1.6e-3}
]},
"encoding":{
 "x":{"field":"x","type":"quantitative","scale":{"domain":[1500,1740.5],"nice":false,"zero":false},
      "axis":{"values":[1500,1550,1600,1650,1700],"format":"d","tickSize":10,"labelPadding":5,"title":null,"grid":false,"labelFont":"Liberation Serif","labelFontSize":13}}
},
"layer":[
{"transform":[{"filter":"isValid(datum.r)"}],
 "mark":{"type":"line","strokeWidth":1.8,"clip":true},
 "encoding":{
  "y":{"field":"r","type":"quantitative","scale":{"type":"log","domain":[0.00001,0.2317],"nice":false},
       "axis":{"orient":"left","values":[0.00001,0.0001,0.001,0.01,0.1],"tickSize":8,"labelPadding":17,"labelOffset":2,
               "labelFont":"Liberation Serif","labelFontSize":13.5,"labelExpr":"'10'",
               "title":"Power (arb. units)","titleFont":"Liberation Serif","titleFontSize":13,"titleFontWeight":"normal","titleX":-63,"titleY":209.5,"titleAngle":-90,"titleAlign":"center","titleBaseline":"middle","grid":false}},
  "color":{"datum":"27 mW","title":"CMS-NTHU round trip",
           "scale":{"domain":["27 mW","70 mW","152 mW"],"range":["#ff0000","#0000cc","#009600"]},
           "legend":{"orient":"none","legendX":276,"legendY":10}}
 }},
{"transform":[{"filter":"isValid(datum.b)"}],
 "mark":{"type":"line","strokeWidth":1.8,"clip":true},
 "encoding":{
  "y":{"field":"b","type":"quantitative","scale":{"type":"log","domain":[0.00001,0.2317],"nice":false},
       "axis":{"orient":"left","values":[0.00001,0.0001,0.001,0.01,0.1],"ticks":false,"tickSize":0,"domain":false,"labelPadding":24,"labelAlign":"left","labelOffset":-4,
               "labelFont":"Liberation Serif","labelFontSize":9.5,
               "labelExpr":"datum.value < 2e-5 ? '−5' : datum.value < 2e-4 ? '−4' : datum.value < 2e-3 ? '−3' : datum.value < 2e-2 ? '−2' : '−1'",
               "title":null,"grid":false}},
  "color":{"datum":"70 mW"}
 }},
{"transform":[{"filter":"isValid(datum.g)"}],
 "mark":{"type":"line","strokeWidth":1.8,"clip":true},
 "encoding":{
  "y":{"field":"g","type":"quantitative","scale":{"type":"log","domain":[0.00001,0.2317],"nice":false},
       "axis":{"orient":"left","values":[2e-5,3e-5,4e-5,5e-5,6e-5,7e-5,8e-5,9e-5,2e-4,3e-4,4e-4,5e-4,6e-4,7e-4,8e-4,9e-4,2e-3,3e-3,4e-3,5e-3,6e-3,7e-3,8e-3,9e-3,0.02,0.03,0.04,0.05,0.06,0.07,0.08,0.09,0.2],
               "tickSize":4.5,"labels":false,"domain":false,"title":null,"grid":false}},
  "color":{"datum":"152 mW"}
 }}
],
"resolve":{"axis":{"y":"independent"}},
"config":{
 "font":"Liberation Serif",
 "view":{"stroke":"#444","strokeWidth":1.5},
 "axis":{"labelFont":"Liberation Serif","labelFontSize":13,"labelColor":"#222","domainColor":"#111","tickColor":"#111","titleFont":"Liberation Serif","titleFontSize":13,"titleFontWeight":"normal","titleColor":"#333"},
 "legend":{"symbolType":"stroke","symbolSize":784,"symbolStrokeWidth":1.5,"labelFont":"Liberation Serif","labelFontSize":13,"labelColor":"#111","titleFont":"Liberation Serif","titleFontSize":13.5,"titleFontWeight":"normal","titleColor":"#111","titlePadding":2,"rowPadding":0,"clipHeight":14,"labelOffset":4,"padding":0}
}
}
